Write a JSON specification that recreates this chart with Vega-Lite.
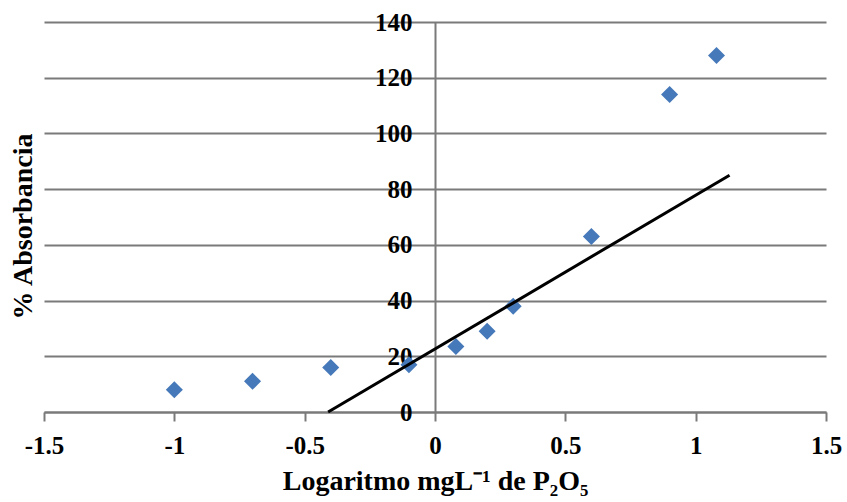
{
  "$schema": "https://vega.github.io/schema/vega-lite/v6.json",
  "width": 782,
  "height": 390,
  "autosize": {"type": "none"},
  "padding": {"left": 44, "top": 22, "right": 21, "bottom": 90},
  "background": "white",
  "config": {
    "view": {"stroke": null},
    "font": "Liberation Serif"
  },
  "datasets": {
    "points": [
      {"x": -1.0, "y": 8},
      {"x": -0.7, "y": 11},
      {"x": -0.4, "y": 16},
      {"x": -0.1, "y": 17},
      {"x": 0.08, "y": 23.5},
      {"x": 0.2, "y": 29},
      {"x": 0.3, "y": 38},
      {"x": 0.6, "y": 63},
      {"x": 0.9, "y": 114},
      {"x": 1.08, "y": 128}
    ],
    "trend": [
      {"x": -0.41, "y": 0},
      {"x": 1.13, "y": 85}
    ]
  },
  "layer": [
    {
      "data": {"name": "points"},
      "mark": {"type": "point", "shape": "diamond", "filled": true, "size": 290, "color": "#4679b9", "opacity": 1},
      "encoding": {
        "x": {
          "field": "x", "type": "quantitative",
          "scale": {"domain": [-1.5, 1.5], "nice": false, "zero": false},
          "axis": {
            "values": [-1.5, -1, -0.5, 0, 0.5, 1, 1.5],
            "labelExpr": "'' + datum.value",
            "title": "Logaritmo mgL⁻¹ de P₂O₅",
            "grid": false,
            "domainColor": "#7a7a7a",
            "domainWidth": 2,
            "tickColor": "#7a7a7a",
            "tickWidth": 2,
            "tickSize": 9,
            "labelFlush": false,
            "labelFont": "Liberation Serif",
            "labelFontWeight": "bold",
            "labelFontSize": 25,
            "labelColor": "black",
            "labelPadding": 12,
            "titleFont": "Liberation Serif",
            "titleFontWeight": "bold",
            "titleFontSize": 28,
            "titleColor": "black",
            "titlePadding": 9
          }
        },
        "y": {
          "field": "y", "type": "quantitative",
          "scale": {"domain": [0, 140], "nice": false},
          "axis": {
            "values": [0, 20, 40, 60, 80, 100, 120, 140],
            "orient": "left",
            "offset": -391,
            "title": "% Absorbancia",
            "titleX": -412,
            "titleY": 204,
            "titleAngle": -90,
            "titleAlign": "center",
            "titleBaseline": "middle",
            "grid": true,
            "gridColor": "#7a7a7a",
            "gridWidth": 2,
            "ticks": false,
            "domainColor": "#7a7a7a",
            "domainWidth": 2,
            "labelFont": "Liberation Serif",
            "labelFontWeight": "bold",
            "labelFontSize": 25,
            "labelColor": "black",
            "labelPadding": 23,
            "titleFont": "Liberation Serif",
            "titleFontWeight": "bold",
            "titleFontSize": 28,
            "titleColor": "black"
          }
        }
      }
    },
    {
      "data": {"name": "trend"},
      "mark": {"type": "line", "color": "black", "strokeWidth": 3},
      "encoding": {
        "x": {"field": "x", "type": "quantitative"},
        "y": {"field": "y", "type": "quantitative"}
      }
    }
  ]
}
